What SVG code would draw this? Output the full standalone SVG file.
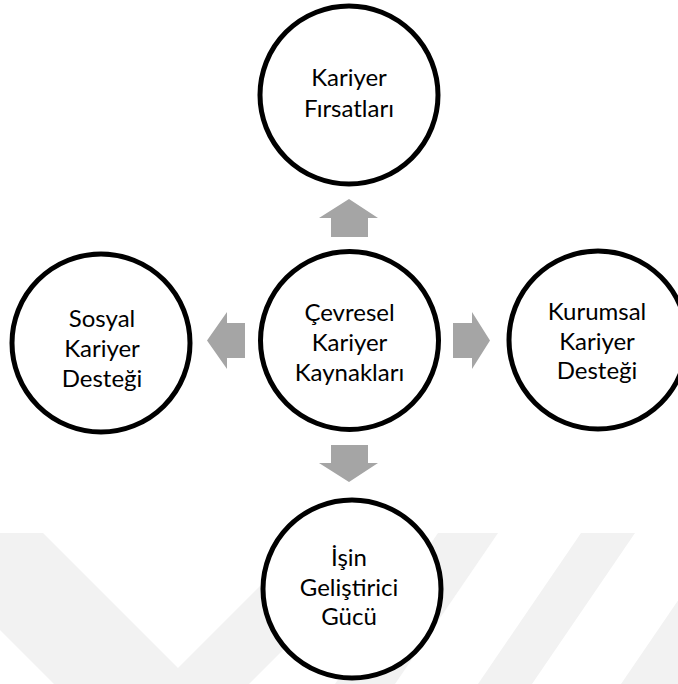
<svg xmlns="http://www.w3.org/2000/svg" width="678" height="684" viewBox="0 0 678 684">
<style>
.wm{fill:#f2f2f2;stroke:none}
.node{fill:#ffffff;stroke:#000000;stroke-width:5}
.arr{fill:#a5a5a5;stroke:none}
.lbl{font-family:Lato,"Open Sans","Noto Sans",sans-serif;font-size:24px;fill:#000000;text-anchor:middle}
</style>
<rect x="0" y="0" width="678" height="684" fill="#ffffff"/>
<g id="watermark">
<polygon class="wm" points="-97,533 43,533 178,668 313,533 400,533 249,684 54,684"/>
<polygon class="wm" points="438,533 498,533 395,684 335,684"/>
<polygon class="wm" points="581,533 635,533 532,684 478,684"/>
<polygon class="wm" points="724,533 784,533 681,684 621,684"/>
</g>
<g id="connectors">
<polygon class="arr" points="349,199 378,218 368,218 368,237 331,237 331,218 319,218"/>
<polygon class="arr" points="331,445 368,445 368,463 378,463 349,482 319,463 331,463"/>
<polygon class="arr" points="207,340.5 227,312 227,323 245,323 245,358 227,358 227,369"/>
<polygon class="arr" points="490,340.5 472,312 472,323 453,323 453,358 472,358 472,369"/>
</g>
<g id="kariyer-firsatlari">
<circle class="node" cx="349" cy="95" r="89"/>
<text class="lbl" x="349" y="86">Kariyer</text>
<text class="lbl" x="349" y="117">Fırsatları</text>
</g>
<g id="cevresel-kariyer-kaynaklari">
<circle class="node" cx="349.5" cy="340.5" r="89"/>
<text class="lbl" x="349.5" y="321">Çevresel</text>
<text class="lbl" x="349.5" y="351">Kariyer</text>
<text class="lbl" x="349.5" y="381">Kaynakları</text>
</g>
<g id="sosyal-kariyer-destegi">
<circle class="node" cx="101" cy="343" r="89"/>
<text class="lbl" x="102" y="327">Sosyal</text>
<text class="lbl" x="102" y="357">Kariyer</text>
<text class="lbl" x="102" y="387">Desteği</text>
</g>
<g id="kurumsal-kariyer-destegi">
<circle class="node" cx="598" cy="340" r="89"/>
<text class="lbl" x="597" y="320">Kurumsal</text>
<text class="lbl" x="597" y="350">Kariyer</text>
<text class="lbl" x="597" y="379">Desteği</text>
</g>
<g id="isin-gelistirici-gucu">
<circle class="node" cx="352" cy="589" r="89"/>
<text class="lbl" x="349" y="566">İşin</text>
<text class="lbl" x="349" y="596">Geliştirici</text>
<text class="lbl" x="349" y="625">Gücü</text>
</g>
</svg>
